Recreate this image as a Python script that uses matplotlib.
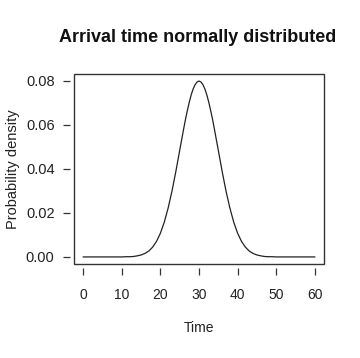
import matplotlib.pyplot as plt
from matplotlib.patches import Rectangle

plt.rcParams['font.family'] = ['Liberation Sans', 'DejaVu Sans']

# densidad (más puntos cerca del pico)
tiempo = list(range(0, 26)) + [26, 26.5, 27, 27.5, 28, 28.5, 29, 29.5, 30,
                               30.5, 31, 31.5, 32, 32.5, 33, 33.5, 34] + list(range(35, 61))
densidad = [0.0000, 0.0000, 0.0000, 0.0000, 0.0000, 0.0000, 0.0000, 0.0000, 0.0000, 0.0000,
            0.0000, 0.0001, 0.0001, 0.0002, 0.0005, 0.0009, 0.0016, 0.0027, 0.0045, 0.0071,
            0.0108, 0.0158, 0.0222, 0.0299, 0.0388, 0.0484,
            0.0579, 0.0625, 0.0666, 0.0704, 0.0737, 0.0763, 0.0782, 0.0794, 0.0798,
            0.0794, 0.0782, 0.0763, 0.0737, 0.0704, 0.0666, 0.0625, 0.0579,
            0.0484, 0.0388, 0.0299, 0.0222, 0.0158, 0.0108,
            0.0071, 0.0045, 0.0027, 0.0016, 0.0009, 0.0005, 0.0002, 0.0001, 0.0001, 0.0000,
            0.0000, 0.0000, 0.0000, 0.0000, 0.0000, 0.0000, 0.0000, 0.0000, 0.0000, 0.0000]

xticks = [0, 10, 20, 30, 40, 50, 60]
yticks = [0.00, 0.02, 0.04, 0.06, 0.08]

fig = plt.figure(figsize=(3.6, 3.58), dpi=100)
ax = fig.add_axes([0.2056, 0.2626, 0.6944, 0.5307])

ax.plot(tiempo, densidad, '-', color='#222222', lw=0.9)

ax.set_xlim(-2.4, 62.4)
ax.set_ylim(-0.0032, 0.0830)
ax.set_xticks(xticks)
ax.set_xticklabels([str(t) for t in xticks])
ax.set_yticks(yticks)
ax.set_yticklabels(['%.2f' % v for v in yticks])

for lado in ['top', 'right']:
    ax.spines[lado].set_visible(False)
for lado in ['bottom', 'left']:
    ax.spines[lado].set_position(('outward', 3))
    ax.spines[lado].set_color('none')
ax.add_patch(Rectangle((0, 0), 1, 1, transform=ax.transAxes, fill=False,
                       edgecolor='#333333', lw=1.0, clip_on=False))

ax.tick_params(axis='x', direction='out', length=5, width=0.9, color='#333333',
               pad=9, labelsize=10, labelcolor='#222222')
ax.tick_params(axis='y', direction='out', length=5, width=0.9, color='#333333',
               pad=6, labelsize=10.5, labelcolor='#222222')

ax.set_xlabel('Time', fontsize=10, color='#222222', labelpad=14)
ax.set_ylabel('Probability density', fontsize=10.5, color='#222222', labelpad=4)
fig.text(0.549, 0.894, 'Arrival time normally distributed', ha='center', va='center',
         fontsize=13, fontweight='bold', color='#111111')

plt.savefig('out.png', dpi=100)
